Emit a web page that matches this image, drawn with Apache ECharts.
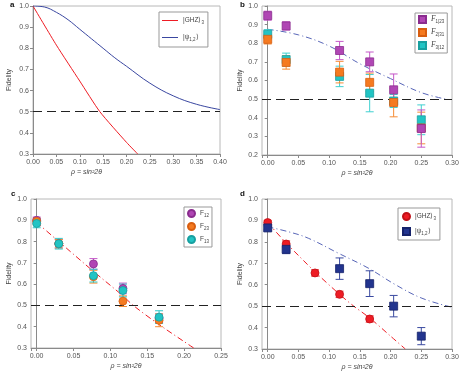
<!DOCTYPE html>
<html><head><meta charset="utf-8">
<script src="https://cdn.jsdelivr.net/npm/echarts@6/dist/echarts.min.js"></script>
<style>html,body{margin:0;padding:0;background:#fff}#c{width:462px;height:378px}</style>
</head><body><div id="c"></div><script>
// ---------- data ----------
// panel a (theory curves)
const aGhzX = [0, 0.05, 0.10, 0.143, 0.20, 0.224];
const aGhzY = [1.0, 0.815, 0.645, 0.50, 0.355, 0.30];
const aPsiX = [0, 0.025, 0.05, 0.075, 0.10, 0.125, 0.15, 0.175, 0.20, 0.25, 0.30, 0.35, 0.40];
const aPsiY = [1.0, 0.995, 0.97, 0.935, 0.89, 0.845, 0.80, 0.755, 0.715, 0.635, 0.575, 0.535, 0.51];
// panel b
const bX = [0, 0.03, 0.117, 0.166, 0.205, 0.25];
const bF1 = [0.948, 0.893, 0.761, 0.700, 0.550, 0.342];
const bF1Err = [0.024, 0.022, 0.049, 0.053, 0.085, 0.10];
const bF2 = [0.821, 0.697, 0.645, 0.590, 0.482, 0.345];
const bF2Err = [0.025, 0.036, 0.058, 0.05, 0.077, 0.085];
const bF3 = [0.848, 0.712, 0.622, 0.532, 0.49, 0.389];
const bF3Err = [0.025, 0.035, 0.055, 0.10, 0.035, 0.08];
const bLineX = [0, 0.05, 0.10, 0.15, 0.20, 0.25, 0.29];
const bLineY = [0.875, 0.845, 0.785, 0.69, 0.61, 0.535, 0.50];
// panel c
const cX = [0, 0.03, 0.077, 0.117, 0.166];
const cF12 = [0.90, 0.79, 0.695, 0.58, 0.44];
const cF12Err = [0.015, 0.02, 0.025, 0.025, 0.02];
const cF23 = [0.895, 0.79, 0.635, 0.52, 0.43];
const cF23Err = [0.015, 0.02, 0.03, 0.025, 0.03];
const cF13 = [0.885, 0.79, 0.64, 0.57, 0.445];
const cF13Err = [0.02, 0.025, 0.03, 0.03, 0.03];
const cLineX = [0, 0.03, 0.077, 0.117, 0.131, 0.166, 0.213];
const cLineY = [0.89, 0.80, 0.66, 0.545, 0.50, 0.41, 0.30];
// panel d
const dGhzX = [0, 0.03, 0.077, 0.117, 0.166];
const dGhz = [0.89, 0.79, 0.655, 0.555, 0.44];
const dGhzErr = [0.01, 0.015, 0.015, 0.015, 0.015];
const dPsiX = [0, 0.03, 0.117, 0.166, 0.205, 0.25];
const dPsi = [0.865, 0.765, 0.675, 0.605, 0.50, 0.36];
const dPsiErr = [0.01, 0.02, 0.05, 0.06, 0.05, 0.04];
const dRedX = [0, 0.03, 0.077, 0.117, 0.14, 0.166, 0.20, 0.224];
const dRedY = [0.89, 0.795, 0.66, 0.555, 0.50, 0.445, 0.36, 0.30];
const dBlueX = [0, 0.034, 0.066, 0.115, 0.164, 0.208, 0.251, 0.30];
const dBlueY = [0.87, 0.847, 0.817, 0.747, 0.677, 0.60, 0.537, 0.495];
// texts
const panelLetters = ['a', 'b', 'c', 'd'];
const xTitle = 'ρ = sin²2θ';
const yTitle = 'Fidelity';

// ---------- helpers ----------
const FONT = '"Liberation Sans", Arial, sans-serif';
const PURPLE = '#b046b4', ORANGE = '#f57a20', CYAN = '#22c4c4', RED = '#ee1c24', NAVY = '#22348e';
function pairs(xs, ys) { return xs.map((x, i) => [x, ys[i]]); }
function triples(xs, ys, es) { return xs.map((x, i) => [x, ys[i], es[i]]); }

function errSeries(idx, xs, ys, es, color, z) {
  return {
    type: 'custom', xAxisIndex: idx, yAxisIndex: idx, z: z, silent: true,
    data: triples(xs, ys, es), encode: { x: 0, y: 1 },
    renderItem: function (params, api) {
      const x = api.value(0), y = api.value(1), e = api.value(2);
      const t = api.coord([x, y + e]), b = api.coord([x, y - e]);
      const w = 4, st = { stroke: color, lineWidth: 1 };
      return { type: 'group', children: [
        { type: 'line', shape: { x1: t[0], y1: t[1], x2: b[0], y2: b[1] }, style: st },
        { type: 'line', shape: { x1: t[0] - w, y1: t[1], x2: t[0] + w, y2: t[1] }, style: st },
        { type: 'line', shape: { x1: b[0] - w, y1: b[1], x2: b[0] + w, y2: b[1] }, style: st }
      ] };
    }
  };
}
function scat(idx, name, xs, ys, symbol, color, border, z) {
  return { type: 'scatter', name: name, xAxisIndex: idx, yAxisIndex: idx, z: z,
    data: pairs(xs, ys), symbol: symbol, symbolSize: 8,
    itemStyle: { color: color, borderColor: border, borderWidth: 0.8, opacity: 1 } };
}
function curve(idx, name, xs, ys, color, type, withMark, smooth) {
  const s = { type: 'line', name: name, xAxisIndex: idx, yAxisIndex: idx, z: 1,
    data: pairs(xs, ys), symbol: 'none', showSymbol: false, smooth: smooth,
    itemStyle: { color: color },
    lineStyle: { color: color, width: 1, type: type } };
  if (withMark) {
    s.markLine = { silent: true, symbol: 'none', label: { show: false },
      lineStyle: { color: '#222', width: 1.2, type: [9, 5] }, data: [{ yAxis: 0.5 }] };
  }
  return s;
}

const grids = [
  { left: 33, top: 6, width: 187, height: 148 },
  { left: 262, top: 6, width: 190, height: 149 },
  { left: 31, top: 199, width: 190, height: 149 },
  { left: 262, top: 199, width: 190, height: 150 }
];
const xRanges = [[0, 0.40, 0.05], [-0.0093, 0.30, null], [-0.0077, 0.25, null], [-0.0093, 0.30, null]];
const yRanges = [[0.3, 1.0], [0.2, 1.0], [0.3, 1.0], [0.3, 1.0]];

const axisCommon = {
  axisLine: { lineStyle: { color: '#8a8a8a', width: 1 } },
  axisTick: { length: 3, lineStyle: { color: '#8a8a8a' } },
  splitLine: { show: false }
};
const xAxes = grids.map((g, i) => {
  const ax = Object.assign({}, axisCommon, {
    type: 'value', gridIndex: i, min: xRanges[i][0], max: xRanges[i][1],
    name: xTitle, nameLocation: 'middle', nameGap: 15,
    nameTextStyle: { fontSize: 7, color: '#444', fontFamily: FONT, fontStyle: 'italic',
      padding: i === 0 ? [0, 80, 0, 0] : 0 },
    axisLabel: { fontSize: 7, color: '#555', fontFamily: FONT, margin: 5,
      formatter: v => (v < -1e-6 ? '' : v.toFixed(2)) }
  });
  if (xRanges[i][2]) ax.interval = xRanges[i][2]; else ax.splitNumber = 5;
  return ax;
});
const yAxes = grids.map((g, i) => Object.assign({}, axisCommon, {
  type: 'value', gridIndex: i, min: yRanges[i][0], max: yRanges[i][1], interval: 0.1,
  name: yTitle, nameLocation: 'middle', nameGap: i === 0 ? 20 : 18,
  nameTextStyle: { fontSize: 7, color: '#444', fontFamily: FONT },
  axisLabel: { fontSize: 7, color: '#555', fontFamily: FONT, margin: 4, formatter: v => v.toFixed(1) }
}));

const rich = {
  t: { fontSize: 6.5, color: '#444', fontFamily: FONT },
  f: { fontSize: 7.5, color: '#444', fontFamily: '"Liberation Serif", serif', fontStyle: 'italic' },
  s: { fontSize: 4.5, color: '#444', fontFamily: FONT, padding: [4, 0, 0, 0] }
};
const legendLabels = {
  aGHZ: '{t||GHZ⟩}{s|3}', aPsi: '{t||ψ}{s|1,2}{t|⟩}',
  bF1: '{f|F}{s|1|23}', bF2: '{f|F}{s|2|31}', bF3: '{f|F}{s|3|12}',
  cF12: '{t|F}{s|12}', cF23: '{t|F}{s|23}', cF13: '{t|F}{s|13}',
  dGHZ: '{t||GHZ⟩}{s|3}', dPsi: '{t||ψ}{s|1,2}{t|⟩}'
};
function legend(names, left, top, pad, iw, ih, gap, icon) {
  const l = { data: names, orient: 'vertical', left: left, top: top, padding: pad,
    itemWidth: iw, itemHeight: ih, itemGap: gap, selectedMode: false,
    borderColor: '#999', borderWidth: 1, backgroundColor: '#fff',
    textStyle: { fontSize: 6.5, color: '#444', fontFamily: FONT, rich: rich },
    formatter: n => legendLabels[n] };
  if (icon) l.icon = icon;
  return l;
}

const series = [
  // a
  curve(0, 'aGHZ', aGhzX, aGhzY, RED, 'solid', true, 0.2),
  curve(0, 'aPsi', aPsiX, aPsiY, '#3a47a0', 'solid', false, 0.4),
  // b
  curve(1, 'bLine', bLineX, bLineY, '#5866b8', [6, 3, 1, 3], true, 0.4),
  errSeries(1, bX, bF3, bF3Err, '#3fd0d0', 2),
  errSeries(1, bX, bF2, bF2Err, '#f58c35', 3),
  errSeries(1, bX, bF1, bF1Err, '#c458c8', 4),
  scat(1, 'bF3', bX, bF3, 'rect', CYAN, '#18a0a0', 5),
  scat(1, 'bF2', bX, bF2, 'rect', ORANGE, '#d85e10', 6),
  scat(1, 'bF1', bX, bF1, 'rect', PURPLE, '#8a2c8e', 7),
  // c
  curve(2, 'cLine', cLineX, cLineY, RED, [6, 3, 1, 3], true, 0.3),
  errSeries(2, cX, cF12, cF12Err, '#c458c8', 2),
  errSeries(2, cX, cF23, cF23Err, '#f58c35', 3),
  errSeries(2, cX, cF13, cF13Err, '#2fc8c8', 4),
  scat(2, 'cF12', cX, cF12, 'circle', PURPLE, '#8a2c8e', 5),
  scat(2, 'cF23', cX, cF23, 'circle', ORANGE, '#d85e10', 6),
  scat(2, 'cF13', cX, cF13, 'circle', CYAN, '#18a0a0', 7),
  // d
  curve(3, 'dRed', dRedX, dRedY, RED, [6, 3, 1, 3], true, 0.3),
  curve(3, 'dBlue', dBlueX, dBlueY, '#5866b8', [6, 3, 1, 3], false, 0.4),
  errSeries(3, dGhzX, dGhz, dGhzErr, '#f05050', 2),
  errSeries(3, dPsiX, dPsi, dPsiErr, '#3a4aa0', 3),
  scat(3, 'dGHZ', dGhzX, dGhz, 'circle', RED, '#c01018', 5),
  scat(3, 'dPsi', dPsiX, dPsi, 'rect', NAVY, '#15226a', 6)
];

const option = {
  animation: false,
  backgroundColor: '#fff',
  textStyle: { fontFamily: FONT },
  title: panelLetters.map((t, i) => ({ text: t, left: [10, 240, 11, 240][i], top: [1, 1, 190, 190][i], padding: 0,
    textStyle: { fontSize: 8, fontWeight: 'bold', color: '#111', fontFamily: FONT } })),
  grid: grids.map(g => Object.assign({ show: true, borderColor: '#b8b8b8', borderWidth: 1, containLabel: false }, g)),
  xAxis: xAxes,
  yAxis: yAxes,
  legend: [
    legend(['aGHZ', 'aPsi'], 159, 12, [5, 4, 5, 3], 16, 1, 9, 'rect'),
    legend(['bF1', 'bF2', 'bF3'], 415, 13, [2, 3, 3, 3], 7, 7, 4),
    legend(['cF12', 'cF23', 'cF13'], 184, 207, [2, 3, 3, 3], 7, 7, 4),
    legend(['dGHZ', 'dPsi'], 398, 208, [4, 4, 4, 4], 7, 7, 6)
  ],
  series: series
};
const chart = echarts.init(document.getElementById('c'), null, { renderer: 'canvas' });
chart.setOption(option);
</script></body></html>
